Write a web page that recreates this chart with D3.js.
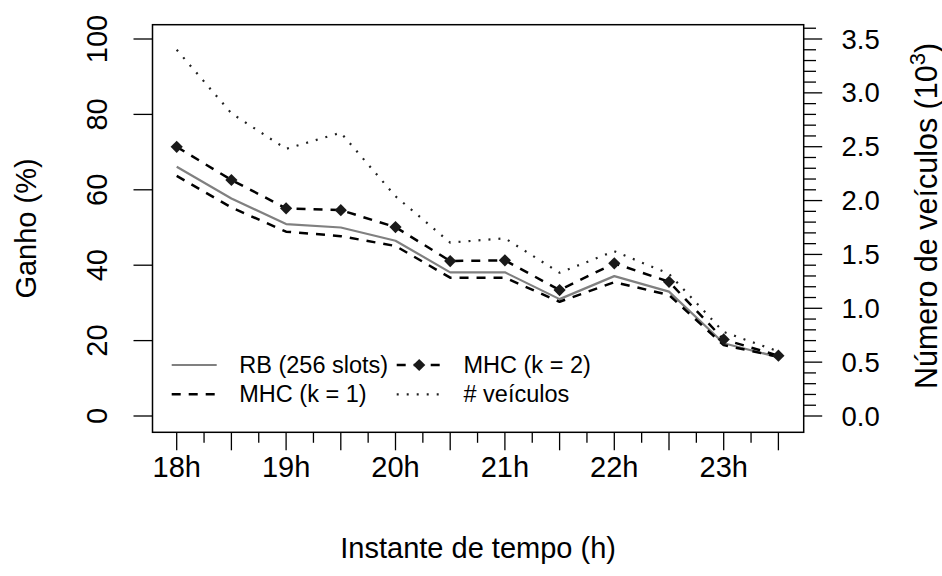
<!DOCTYPE html>
<html>
<head>
<meta charset="utf-8">
<script src="https://cdn.jsdelivr.net/npm/d3@7"></script>
<style>
  html, body { margin: 0; padding: 0; background: #fff; }
  svg { display: block; }
  text { font-family: "Liberation Sans", Arial, Helvetica, sans-serif; fill: #000; }
</style>
</head>
<body>
<svg id="chart" width="942" height="576"></svg>
<script>
// ---- data ----
const hours = [18, 18.5, 19, 19.5, 20, 20.5, 21, 21.5, 22, 22.5, 23, 23.5];
const rb256 = [66.1, 57.7, 50.9, 50.0, 46.5, 38.1, 38.1, 31.0, 37.1, 33.0, 19.3, 15.6];
const mhcK1 = [63.7, 55.3, 48.9, 47.7, 45.1, 36.7, 36.7, 30.3, 35.5, 32.1, 18.8, 15.7];
const mhcK2 = [71.4, 62.6, 55.1, 54.6, 50.1, 41.1, 41.3, 33.4, 40.5, 35.6, 20.3, 16.0];
const vehicles = [3.40, 2.81, 2.48, 2.63, 2.04, 1.61, 1.65, 1.33, 1.53, 1.32, 0.78, 0.60]; // thousands
const xTickLabels = ["18h", "19h", "20h", "21h", "22h", "23h"];
const xLabelHours = [18, 19, 20, 21, 22, 23];
const leftTicks = [0, 20, 40, 60, 80, 100];
const rightMajor = [0.0, 0.5, 1.0, 1.5, 2.0, 2.5, 3.0, 3.5];
const legendLabels = ["RB (256 slots)", "MHC (k = 1)", "MHC (k = 2)", "# veículos"];

// ---- layout ----
const svg = d3.select("#chart");
const box = { left: 152.5, right: 803.7, top: 24.7, bottom: 432.3 };

const x = d3.scaleLinear().domain([18, 23.5]).range([176.7, 778.4]);
const yL = d3.scaleLinear().domain([0, 100]).range([416, 39]);
const yR = d3.scaleLinear().domain([0, 3.5]).range([416, 39]);

const ink = "#000";
const FS = 29;

// plot box
svg.append("rect")
  .attr("x", box.left).attr("y", box.top)
  .attr("width", box.right - box.left).attr("height", box.bottom - box.top)
  .attr("fill", "none").attr("stroke", ink).attr("stroke-width", 1.5);

// ---- left axis ----
const gL = svg.append("g");
leftTicks.forEach(v => {
  gL.append("line").attr("x1", box.left - 19).attr("x2", box.left)
    .attr("y1", yL(v)).attr("y2", yL(v)).attr("stroke", ink).attr("stroke-width", 1.3);
  gL.append("text")
    .attr("transform", `translate(107,${yL(v)}) rotate(-90)`)
    .attr("text-anchor", "middle").attr("font-size", FS).text(v);
});
svg.append("text")
  .attr("transform", `translate(35.5,${(box.top + box.bottom) / 2}) rotate(-90)`)
  .attr("text-anchor", "middle").attr("font-size", FS).text("Ganho (%)");

// ---- right axis ----
const gR = svg.append("g");
const rightTicks = d3.range(0, 37).map(i => i / 10);
rightTicks.forEach(v => {
  const major = Math.abs(v * 2 - Math.round(v * 2)) < 1e-9;
  gR.append("line").attr("x1", box.right).attr("x2", box.right + (major ? 18.5 : 12.3))
    .attr("y1", yR(v)).attr("y2", yR(v)).attr("stroke", ink).attr("stroke-width", 1.3);
});
rightMajor.forEach(v => {
  gR.append("text").attr("x", 841.5).attr("y", yR(v))
    .attr("dominant-baseline", "central").attr("font-size", 27.5).text(d3.format(".1f")(v));
});
const rt = svg.append("text")
  .attr("transform", `translate(936.5,216) rotate(-90)`)
  .attr("text-anchor", "middle").attr("font-size", 30.5);
rt.append("tspan").text("Número de veículos (10");
rt.append("tspan").attr("dy", -12).attr("font-size", 22).text("3");
rt.append("tspan").attr("dy", 12).text(")");

// ---- bottom axis ----
const gB = svg.append("g");
hours.forEach(h => {
  gB.append("line").attr("x1", x(h)).attr("x2", x(h))
    .attr("y1", box.bottom).attr("y2", box.bottom + 18).attr("stroke", ink).attr("stroke-width", 1.3);
});
hours.slice(0, -1).forEach(h => {
  const hm = h + 0.25;
  gB.append("line").attr("x1", x(hm)).attr("x2", x(hm))
    .attr("y1", box.bottom).attr("y2", box.bottom + 10.5).attr("stroke", ink).attr("stroke-width", 1.3);
});
xLabelHours.forEach((h, i) => {
  gB.append("text").attr("x", x(h)).attr("y", 476.5)
    .attr("text-anchor", "middle").attr("font-size", FS).text(xTickLabels[i]);
});
svg.append("text").attr("x", (box.left + box.right) / 2).attr("y", 558)
  .attr("text-anchor", "middle").attr("font-size", FS).text("Instante de tempo (h)");

// ---- series ----
const lineL = d3.line().x((d, i) => x(hours[i])).y(d => yL(d));
const lineR = d3.line().x((d, i) => x(hours[i])).y(d => yR(d));

const styles = {
  rb:  { stroke: "#808080", width: 2.2, dash: null },
  k1:  { stroke: "#000", width: 2.5, dash: "9,8" },
  k2:  { stroke: "#000", width: 2.5, dash: "9,8" },
  veh: { stroke: "#222", width: 2.2, dash: "2,8" }
};

function drawPath(gen, data, st) {
  const p = svg.append("path").datum(data).attr("d", gen)
    .attr("fill", "none").attr("stroke", st.stroke).attr("stroke-width", st.width)
    .attr("stroke-linejoin", "round");
  if (st.dash) p.attr("stroke-dasharray", st.dash);
}
drawPath(lineR, vehicles, styles.veh);
drawPath(lineL, rb256, styles.rb);
drawPath(lineL, mhcK1, styles.k1);
drawPath(lineL, mhcK2, styles.k2);

const diamond = d3.symbol().type(d3.symbolDiamond2).size(95);
svg.append("g").selectAll("path").data(mhcK2).join("path")
  .attr("d", diamond)
  .attr("transform", (d, i) => `translate(${x(hours[i])},${yL(d)})`)
  .attr("fill", "#1a1a1a");

// ---- legend ----
const legend = svg.append("g");
const legItems = [
  { label: legendLabels[0], st: styles.rb, pt: false, col: 0, row: 0 },
  { label: legendLabels[1], st: styles.k1, pt: false, col: 0, row: 1 },
  { label: legendLabels[2], st: styles.k2, pt: true, col: 1, row: 0 },
  { label: legendLabels[3], st: styles.veh, pt: false, col: 1, row: 1 }
];
const colX = [171.7, 396.7];
const textX = [239.3, 463.5];
const rowY = [365, 394.3];
legItems.forEach(it => {
  const x0 = colX[it.col], yy = rowY[it.row];
  const ln = legend.append("line").attr("x1", x0).attr("x2", x0 + 45)
    .attr("y1", yy).attr("y2", yy)
    .attr("stroke", it.st.stroke).attr("stroke-width", it.st.width);
  if (it.st.dash) ln.attr("stroke-dasharray", it.st.dash);
  if (it.pt) {
    legend.append("path").attr("d", diamond)
      .attr("transform", `translate(${x0 + 22.5},${yy})`).attr("fill", "#1a1a1a");
  }
  legend.append("text").attr("x", textX[it.col]).attr("y", yy)
    .attr("dominant-baseline", "central").attr("font-size", 23.5).text(it.label);
});
</script>
</body>
</html>
